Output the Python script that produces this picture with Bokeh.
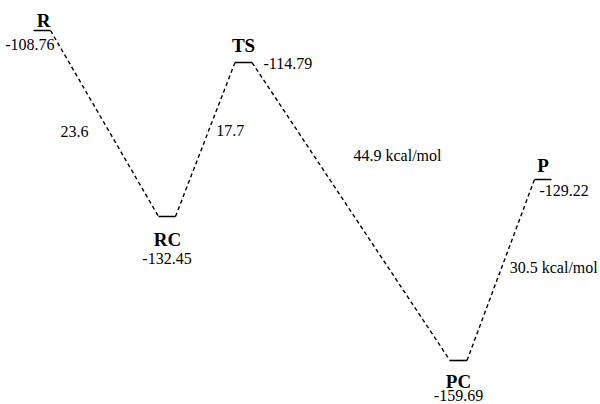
from bokeh.plotting import figure
from bokeh.models import Range1d, ColumnDataSource
from bokeh.core.properties import value
from bokeh.embed import file_html
from bokeh.resources import INLINE

# ---- data ----
species = ["R", "RC", "TS", "PC", "P"]
energies = [-108.76, -132.45, -114.79, -159.69, -129.22]
energy_labels = ["-108.76", "-132.45", "-114.79", "-159.69", "-129.22"]
# position along the reaction coordinate (schematic)
reaction_coord = [0.0, 2.5, 4.03, 8.33, 10.02]
# height at which each level is drawn in the (schematic) diagram
drawn_level = [-108.76, -137.46, -113.70, -159.69, -131.75]
step_labels = ["23.6", "17.7", "44.9 kcal/mol", "30.5 kcal/mol"]

# ---- styling / layout ----
HW = 0.17
SERIF = value("Liberation Serif")

p = figure(width=600, height=404, output_backend="svg", toolbar_location=None,
           x_range=Range1d(-0.83, 11.17), y_range=Range1d(-166.48, -104.13),
           x_axis_location=None, y_axis_location=None,
           min_border=0, min_border_left=0, min_border_right=0,
           min_border_top=0, min_border_bottom=0)
p.grid.visible = False
p.outline_line_color = None
p.background_fill_color = "white"
p.border_fill_color = "white"

n = len(species)
bars = ColumnDataSource(dict(
    x0=[c - HW for c in reaction_coord], x1=[c + HW for c in reaction_coord],
    y=drawn_level))
p.segment(x0="x0", y0="y", x1="x1", y1="y", source=bars,
          line_color="black", line_width=1.6)

conn = ColumnDataSource(dict(
    x0=[reaction_coord[i] + HW for i in range(n - 1)],
    y0=[drawn_level[i] for i in range(n - 1)],
    x1=[reaction_coord[i + 1] - HW for i in range(n - 1)],
    y1=[drawn_level[i + 1] for i in range(n - 1)]))
p.segment(x0="x0", y0="y0", x1="x1", y1="y1", source=conn,
          line_color="black", line_width=1.4, line_dash="4 3")

# species names
name_dx = [1.5, 0.5, 0, 0, 0]
name_dy = [-10, 23, -17, 21, -14]
p.text(x=reaction_coord, y=drawn_level, text=species,
       x_offset=name_dx, y_offset=name_dy,
       text_font=SERIF, text_font_style="bold", text_font_size="19px",
       text_align="center", text_baseline="middle", text_color="black")

# energy labels
e_dx = [12.5, 0, 20, 0, -3.5]
e_dy = [14, 42, 1, 35, 11]
e_align = ["right", "center", "left", "center", "left"]
p.text(x=reaction_coord, y=drawn_level, text=energy_labels,
       x_offset=e_dx, y_offset=e_dy, text_align=e_align,
       text_font=SERIF, text_font_size="16px",
       text_baseline="middle", text_color="black")

# step labels at connector midpoints
mid_x = [(reaction_coord[i] + reaction_coord[i + 1]) / 2 for i in range(n - 1)]
mid_y = [(drawn_level[i] + drawn_level[i + 1]) / 2 for i in range(n - 1)]
s_dx = [-44, 11, 2.5, 9]
s_dy = [8, -9, -56.5, -2]
p.text(x=mid_x, y=mid_y, text=step_labels,
       x_offset=s_dx, y_offset=s_dy, text_align="left",
       text_font=SERIF, text_font_size="16px",
       text_baseline="middle", text_color="black")

open("out.html", "w").write(file_html(p, INLINE))
